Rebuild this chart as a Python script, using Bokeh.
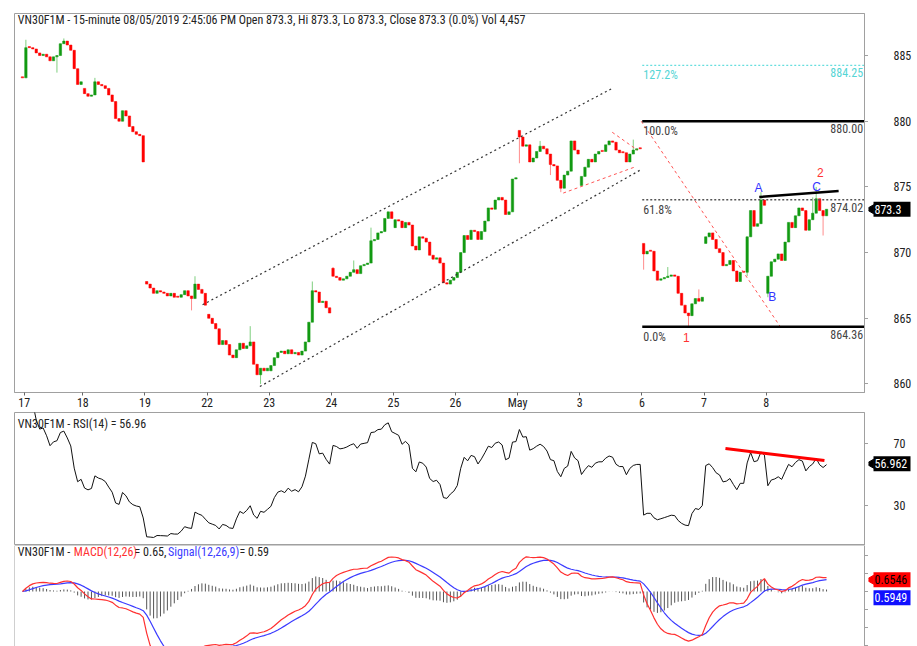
import numpy as np
from bokeh.plotting import figure
from bokeh.models import Range1d, LinearAxis, FixedTicker, Label, Span
from bokeh.layouts import column, row
from bokeh.core.properties import value
from bokeh.embed import file_html
from bokeh.resources import INLINE

# ---------------- data ----------------
symbol = "VN30F1M"
day_labels = ["17", "18", "19", "22", "23", "24", "25", "26", "May", "3", "6", "7", "8"]
day_opens = [883.3, 882.5, 867.8, 865.3, 861.0, 868.8, 871.9, 868.1, 879.3, 875.1, 870.7, 870.7, 866.9]

apr17 = [883.3, 885.6, 885.6, 885.5, 885.2, 885.0, 885.1, 884.9, 884.6, 884.9, 885.0, 885.9, 886.1, 885.8, 885.4, 884.0, 882.8, 883.0]
apr18 = [882.1, 881.9, 882.0, 883.0, 882.8, 882.7, 882.5, 882.0, 881.5, 880.2, 880.0, 880.8, 880.4, 879.6, 879.2, 879.0, 878.9, 876.9]
apr19 = [867.6, 867.3, 866.9, 867.1, 867.0, 866.9, 866.7, 866.9, 866.6, 866.6, 866.8, 867.1, 866.7, 866.5, 867.6, 867.2, 866.9, 866.0]
apr22 = [865.0, 864.6, 864.2, 863.0, 863.3, 863.0, 862.2, 862.0, 862.6, 863.1, 862.7, 862.9, 863.2, 861.5, 860.7, 861.2, 861.0, 861.2]
apr23 = [861.4, 862.0, 862.4, 862.5, 862.3, 862.6, 862.3, 862.4, 862.2, 862.5, 863.2, 864.7, 867.1, 867.0, 866.2, 866.3, 865.8, 865.4]
apr24 = [868.2, 868.1, 867.9, 868.0, 868.2, 868.5, 868.7, 868.4, 869.0, 869.1, 869.2, 870.9, 871.0, 871.5, 871.6, 872.6, 873.1, 872.6]
apr25 = [872.5, 872.4, 871.9, 872.3, 872.1, 870.5, 870.2, 871.2, 871.1, 870.8, 869.8, 869.5, 869.6, 869.2, 867.7, 867.6, 867.9, 868.1]
apr26 = [868.5, 870.0, 871.3, 871.0, 871.7, 871.6, 871.0, 871.6, 872.4, 873.4, 873.3, 874.0, 874.2, 874.0, 872.9, 873.1, 875.6, 875.7]
may02 = [878.8, 878.1, 878.2, 876.9, 877.2, 877.7, 878.1, 877.9, 877.5, 876.7, 876.6, 875.5, 874.9, 875.9, 876.2, 878.5, 877.8, 877.5]
may03 = [875.8, 876.5, 877.1, 876.9, 877.5, 877.7, 877.7, 878.2, 878.5, 878.4, 877.8, 877.6, 877.6, 876.9, 877.5, 877.8, 877.9, 877.9]
may06 = [869.9, 870.1, 870.1, 868.6, 867.9, 868.0, 868.1, 868.2, 868.3, 868.2, 866.9, 866.0, 865.4, 865.2, 866.1, 866.5, 866.3, 866.6]
may07 = [871.2, 871.5, 871.0, 870.3, 870.0, 869.0, 869.1, 869.4, 868.6, 867.8, 868.5, 868.5, 871.2, 873.2, 872.0, 872.2, 874.0, 873.6]
may08 = [868.2, 869.3, 869.5, 869.9, 869.4, 870.8, 872.3, 871.9, 872.8, 873.4, 873.2, 871.7, 872.5, 873.0, 874.1, 873.2, 872.8, 873.3]
closes_by_day = [apr17, apr18, apr19, apr22, apr23, apr24, apr25, apr26, may02, may03, may06, may07, may08]

# visible wicks (bar index -> price)
wick_high = {1: 886.2, 12: 886.3, 21: 883.3, 50: 868.2, 66: 864.4, 84: 867.8, 90: 868.9, 96: 869.4,
             101: 871.9, 150: 878.5, 177: 878.6, 187: 868.9, 196: 867.2, 214: 874.6, 229: 874.2, 230: 875.0}
wick_low = {1: 884.8, 10: 883.7, 49: 865.6, 69: 860.0, 144: 876.8, 153: 875.9, 156: 874.6, 180: 868.7,
            193: 864.36, 210: 868.2, 216: 866.6, 232: 871.3}

price_ticks = [860, 865, 870, 875, 880, 885]
rsi_ticks = [30, 70]
macd_ticks = [-3, -2, -1, 0, 1, 2]

# Fibonacci levels
fib_pct = ["0.0%", "61.8%", "100.0%", "127.2%"]
fib_price = [864.36, 874.02, 880.00, 884.25]
fib_text = ["864.36", "874.02", "880.00", "884.25"]

# trend lines (bar index, price)
chan_up = ([52.2, 170.9], [866.03, 882.5])
chan_lo = ([68.8, 179.0], [859.8, 876.28])
tri_up = ([170.9, 178.2], [879.16, 877.8])
tri_lo = ([156.7, 177.3], [874.53, 876.5])
fib_diag = ([179.3, 219.6], [880.0, 864.36])
ac_line = ([213.5, 236.5], [874.23, 874.68])
rsi_trend = ([203.7, 232.4], [66.8, 59.0])
fib_start = 179.6

wave_text = ["1", "2", "A", "B", "C"]
wave_x = [192.4, 231.2, 213.3, 217.3, 230.1]
wave_y = [863.5, 876.1, 874.9, 866.6, 875.0]
wave_col = ["#ff3333", "#ff3333", "#3333ff", "#3333ff", "#3333ff"]

last_close = 873.3
rsi_last, rsi_title_val = 56.962, "56.96"
macd_last, signal_last = 0.6546, 0.5949

# ---------------- derived series ----------------
close = np.array([v for d in closes_by_day for v in d])
n = len(close)
k = np.arange(n)
opn = np.empty(n)
for i in range(n):
    opn[i] = day_opens[i // 18] if i % 18 == 0 else close[i - 1]
high = np.maximum(opn, close)
low = np.minimum(opn, close)
for i, v in wick_high.items():
    high[i] = max(high[i], v)
for i, v in wick_low.items():
    low[i] = min(low[i], v)
up = close > opn


def ema(x, span):
    a = 2.0 / (span + 1)
    out = [x[0]]
    for v in x[1:]:
        out.append(out[-1] + a * (v - out[-1]))
    return np.array(out)


macd = ema(close, 12) - ema(close, 26)
signal = ema(macd, 9)
hist = macd - signal

diff = np.diff(close)
g = np.where(diff > 0, diff, 0.0)
l = np.where(diff < 0, -diff, 0.0)
rsi = np.full(n, np.nan)
ag = al = 0.0
for i in range(len(diff)):
    if i < 14:
        ag = g[:i + 1].mean()
        al = l[:i + 1].mean()
    else:
        ag = (ag * 13 + g[i]) / 14
        al = (al * 13 + l[i]) / 14
    rsi[i + 1] = 100.0 if al == 0 else 100 - 100 / (1 + ag / al)

# ---------------- styling ----------------
FONT = "Roboto Condensed"
GREY = "#a0a0a0"
XR = Range1d(-2.3, 244.0)
MAIN_W, SIDE_W = 868, 48


def make_fig(h, yr, top=0, bottom=0):
    f = figure(width=MAIN_W, height=h, x_range=XR, y_range=yr, output_backend="svg",
               toolbar_location=None, x_axis_location=None, y_axis_location=None,
               min_border_left=14, min_border_right=4, min_border_top=top,
               min_border_bottom=bottom, background_fill_color="white",
               border_fill_color="white", outline_line_color=GREY)
    f.grid.visible = False
    return f


def right_ticks(f, ticks):
    ax = LinearAxis(ticker=FixedTicker(ticks=ticks), axis_line_color=GREY,
                    major_tick_line_color=GREY, major_tick_out=4, major_tick_in=0,
                    minor_tick_line_color=None, major_label_standoff=0,
                    major_label_overrides={t: "" for t in ticks})
    f.add_layout(ax, "right")


def make_side(h, yr, ticks, top=0, bottom=0):
    s = figure(width=SIDE_W, height=h, x_range=Range1d(0, SIDE_W), y_range=yr,
               output_backend="svg", toolbar_location=None, x_axis_location=None,
               y_axis_location=None, min_border_left=0, min_border_right=0,
               min_border_top=top, min_border_bottom=bottom, outline_line_color=None,
               background_fill_color="white", border_fill_color="white")
    s.grid.visible = False
    if ticks:
        s.text(x=[25] * len(ticks), y=ticks, text=[str(t) for t in ticks],
               text_font=value(FONT), text_font_size="12px", text_baseline="middle",
               text_align="left", text_color="#222222")
    return s


def tag(s, y, text, bg, fg, arrow=True):
    if arrow:
        s.scatter(x=[2.6], y=[y], marker="triangle", size=9, angle=np.pi / 2,
                  fill_color=bg, line_color=bg)
    s.rect(x=[23.5], y=[y], width=37, height=15, height_units="screen",
           fill_color=bg, line_color=None)
    s.text(x=[6], y=[y], text=[text], text_font=value(FONT), text_font_size="12px",
           text_baseline="middle", text_align="left", text_color=fg)


def lab(f, x, y, text, color="#222222", size="12px", align="left", base="middle", font=FONT, **kw):
    f.add_layout(Label(x=x, y=y, text=text, text_color=color, text_font_size=size,
                       text_align=align, text_baseline=base, text_font=font, **kw))


# ---------------- price panel ----------------
yr1 = Range1d(859.35, 888.2)
p1 = make_fig(412, yr1, top=13, bottom=19)
right_ticks(p1, price_ticks)
ticks = [0.5] + [18 * d - 0.5 for d in range(1, 13)]
xax = LinearAxis(ticker=FixedTicker(ticks=ticks),
                 major_label_overrides={t: s for t, s in zip(ticks, day_labels)},
                 axis_line_color=GREY, major_tick_line_color="#666666", major_tick_out=3,
                 major_tick_in=0, minor_tick_line_color=None, major_label_standoff=0,
                 major_label_text_align="left", major_label_text_font=FONT,
                 major_label_text_font_size="12px", major_label_text_color="#222222")
p1.add_layout(xax, "below")

inc_c, dec_c = "#129a12", "#ff0000"
inc_w, dec_w = "#7fcf7f", "#ff8c8c"
p1.segment(k[up], high[up], k[up], low[up], color=inc_w, line_width=1)
p1.segment(k[~up], high[~up], k[~up], low[~up], color=dec_w, line_width=1)
bt = np.maximum(opn, close)
bb = np.minimum(opn, close)
bt = np.where(bt - bb < 0.08, bb + 0.08, bt)
p1.vbar(k[up], 0.7, bt[up], bb[up], fill_color=inc_c, line_color=inc_c, line_width=0.5)
p1.vbar(k[~up], 0.7, bt[~up], bb[~up], fill_color=dec_c, line_color=dec_c, line_width=0.5)

p1.line(*chan_up, color="#333333", line_dash="2 3", line_width=1.2)
p1.line(*chan_lo, color="#333333", line_dash="2 3", line_width=1.2)
p1.line(*tri_up, color="#ff5555", line_dash="3 3", line_width=1)
p1.line(*tri_lo, color="#ff5555", line_dash="3 3", line_width=1)
p1.line(*fib_diag, color="#ff5555", line_dash="3 3", line_width=1)

for pct, pr, txt in zip(fib_pct, fib_price, fib_text):
    if pct in ("0.0%", "100.0%"):
        p1.segment(fib_start, pr, 244.0, pr, color="black", line_width=2.5)
        col = "#444444"
    elif pct == "61.8%":
        p1.segment(fib_start, pr, 244.0, pr, color="#555555", line_width=1.5, line_dash="2 2")
        col = "#444444"
    else:
        p1.segment(fib_start, pr, 244.0, pr, color="#66dede", line_width=1.2, line_dash="2 2")
        col = "#55d5d5"
    lab(p1, fib_start + 0.3, pr, pct, color=col, base="top", y_offset=-3)
    lab(p1, 243.6, pr, txt, color=col, align="right", base="top", y_offset=-3)

p1.line(*ac_line, color="black", line_width=2.5)
for t, x, y, c in zip(wave_text, wave_x, wave_y, wave_col):
    lab(p1, x, y, t, color=c, size="12px", align="center", font="Liberation Sans")

lab(p1, -1.34, 887.67,
    f"{symbol} - 15-minute 08/05/2019 2:45:06 PM Open 873.3, Hi 873.3, Lo 873.3, "
    f"Close 873.3 (0.0%) Vol 4,457", size="12px")

s1 = make_side(412, yr1, price_ticks, top=13, bottom=19)
tag(s1, last_close, f"{last_close}", "black", "white")

# ---------------- RSI panel ----------------
yr2 = Range1d(4.2, 90.0)
p2 = make_fig(133, yr2)
right_ticks(p2, rsi_ticks)
p2.line(k, rsi, color="#111111", line_width=1)
p2.line(*rsi_trend, color="#ff0000", line_width=3)
lab(p2, -1.34, 82.9, f"{symbol} - RSI(14) = {rsi_title_val}", size="12px")
s2 = make_side(133, yr2, rsi_ticks)
tag(s2, rsi_last, f"{rsi_last}", "black", "white")

# ---------------- MACD panel ----------------
yr3 = Range1d(-3.056, 2.556)
p3 = make_fig(101, yr3)
p3.outline_line_color = None
right_ticks(p3, macd_ticks)
p3.add_layout(Span(location=-2.3, dimension="height", line_color=GREY, line_width=1))
p3.add_layout(Span(location=2.556, dimension="width", line_color=GREY, line_width=1))
p3.segment(k, 0, k, hist, color="#555555", line_width=1)
p3.line(k, signal, color="#3b3bff", line_width=1.2)
p3.line(k, macd, color="#ff3030", line_width=1.2)
ty = 2.17
lab(p3, -1.34, ty, f"{symbol} -", size="12px")
lab(p3, 14.9, ty, "MACD(12,26)", color="#ff3030", size="12px")
lab(p3, 32.5, ty, "= 0.65,", size="12px")
lab(p3, 42.2, ty, "Signal(12,26,9)", color="#3b3bff", size="12px")
lab(p3, 62.9, ty, "= 0.59", size="12px")
s3 = make_side(101, yr3, [])
tag(s3, macd_last, f"{macd_last}", "#ff0000", "black")
tag(s3, macd_last - 1.0, f"{signal_last}", "#1010ff", "white", arrow=False)

layout = column(row(p1, s1, spacing=0), row(p2, s2, spacing=0), row(p3, s3, spacing=0), spacing=0)
open("out.html", "w").write(file_html(layout, INLINE))
